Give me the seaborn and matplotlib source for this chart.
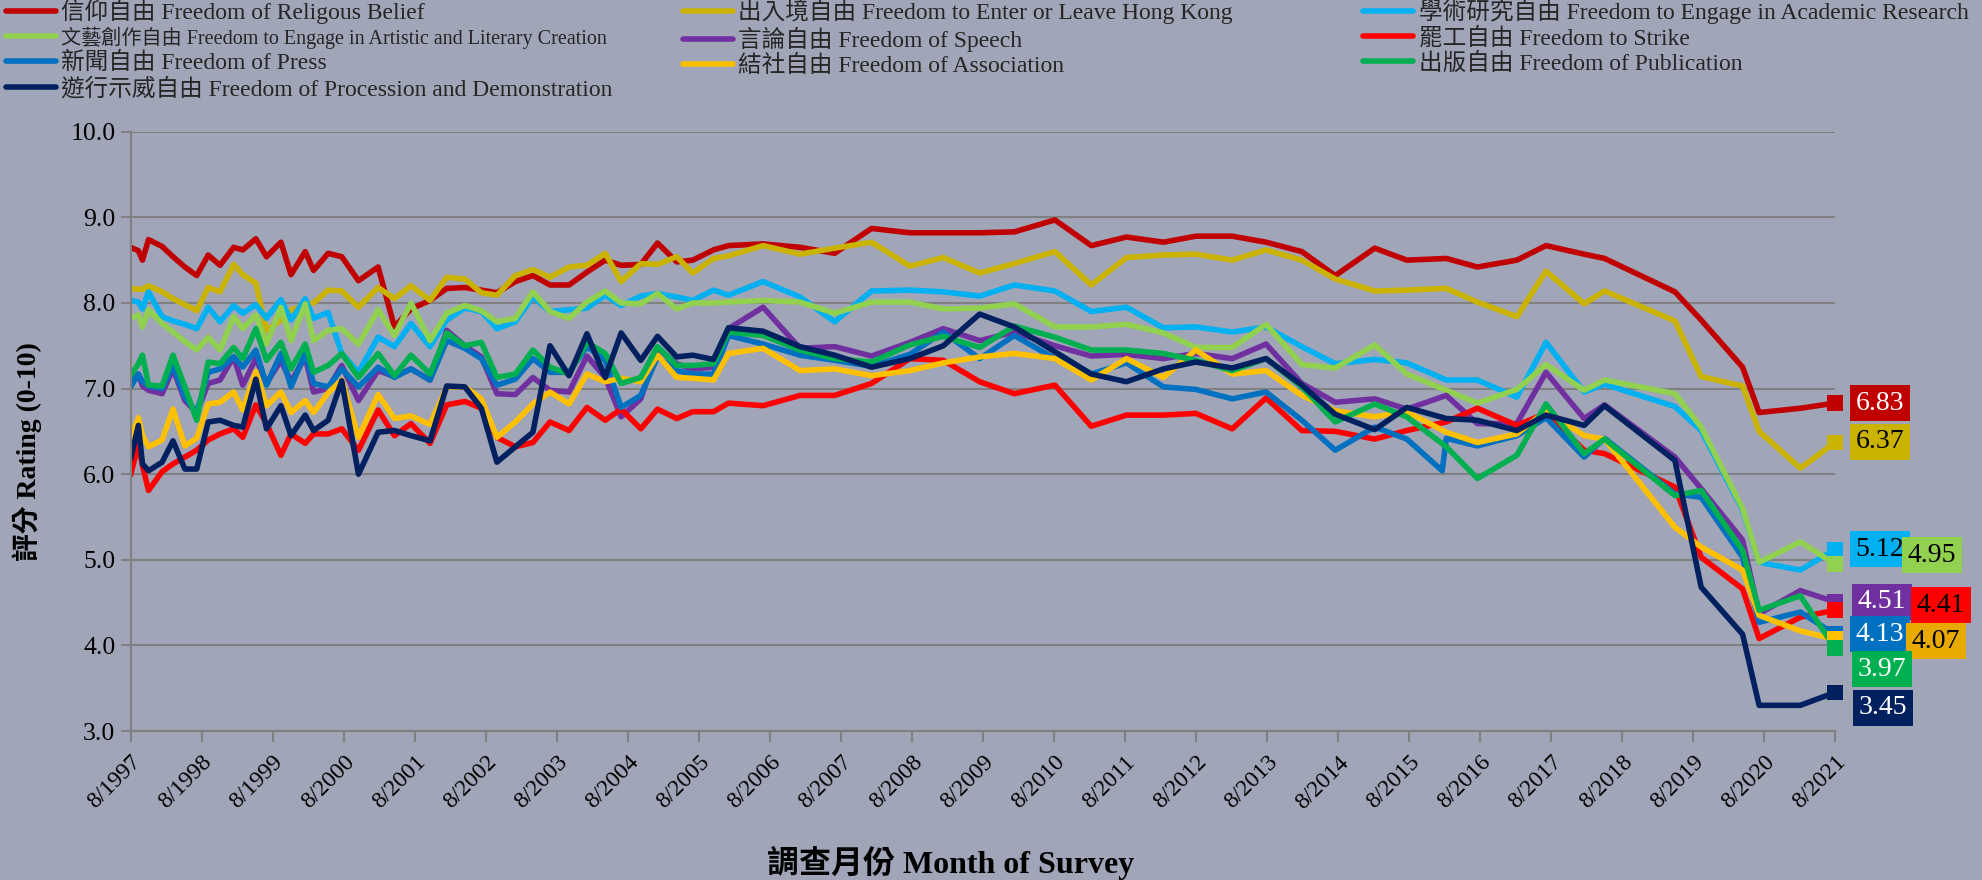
import numpy as np
import pandas as pd
import matplotlib
matplotlib.use("Agg")
import matplotlib.pyplot as plt
import matplotlib.transforms as mtransforms
from matplotlib.lines import Line2D
from matplotlib.ticker import FormatStrFormatter
import seaborn as sns

nan = np.nan

# survey dates (one extra press-only survey in early 2016)
dates = [
    "1997-08-01", "1997-09-10", "1997-10-01", "1997-11-01", "1998-01-10", "1998-03-07", "1998-05-07", "1998-07-07", "1998-09-04", "1998-11-04",
    "1999-01-13", "1999-03-01", "1999-05-07", "1999-07-01", "1999-09-13", "1999-11-04", "2000-01-16", "2000-02-28", "2000-05-13", "2000-07-22",
    "2000-10-16", "2001-01-25", "2001-04-19", "2001-07-13", "2001-10-19", "2002-01-13", "2002-04-16", "2002-07-10", "2002-09-28", "2003-01-01",
    "2003-04-01", "2003-06-28", "2003-10-04", "2004-01-04", "2004-04-07", "2004-06-28", "2004-10-07", "2005-01-01", "2005-04-10", "2005-07-01",
    "2005-10-16", "2006-01-01", "2006-06-28", "2007-01-04", "2007-07-01", "2008-01-07", "2008-07-22", "2009-01-10", "2009-07-16", "2010-01-10",
    "2010-08-07", "2011-02-10", "2011-08-10", "2012-02-16", "2012-08-01", "2013-02-04", "2013-07-28", "2014-01-28", "2014-07-19", "2015-02-07",
    "2015-07-22", "2016-01-20", "2016-02-10", "2016-07-19", "2017-02-07", "2017-07-07", "2018-01-19", "2018-05-04", "2019-05-01", "2019-09-13",
    "2020-04-13", "2020-07-07", "2021-02-04", "2021-08-01"]

religious = [8.65, 8.61, 8.50, 8.74, 8.66, 8.54, 8.42, 8.32, 8.56, 8.44,
             8.65, 8.62, 8.75, 8.54, 8.71, 8.33, 8.60, 8.38, 8.58, 8.54,
             8.26, 8.42, 7.72, 7.93, 8.03, 8.17, 8.18, 8.15, 8.12, 8.25,
             8.32, 8.21, 8.21, 8.36, 8.50, 8.44, 8.45, 8.70, 8.48, 8.50,
             8.62, 8.67, 8.69, 8.65, 8.58, 8.87, 8.82, 8.82, 8.82, 8.83,
             8.97, 8.67, 8.77, 8.71, 8.78, 8.78, 8.71, 8.60, 8.32, 8.64,
             8.50, nan, 8.52, 8.42, 8.50, 8.67, 8.57, 8.52, 8.13, 7.80,
             7.25, 6.72, 6.77, 6.83]
enter_leave = [8.17, 8.16, 8.16, 8.20, 8.13, 8.05, 7.98, 7.91, 8.18, 8.13,
               8.45, 8.33, 8.23, 7.68, 7.80, 7.92, 7.97, 8.00, 8.15, 8.14,
               7.95, 8.18, 8.05, 8.20, 8.03, 8.30, 8.28, 8.12, 8.09, 8.32,
               8.39, 8.30, 8.42, 8.44, 8.58, 8.25, 8.46, 8.45, 8.54, 8.35,
               8.52, 8.55, 8.67, 8.57, 8.64, 8.71, 8.43, 8.53, 8.35, 8.46,
               8.60, 8.21, 8.53, 8.56, 8.57, 8.50, 8.62, 8.50, 8.28, 8.14,
               8.15, nan, 8.17, 8.01, 7.84, 8.37, 7.99, 8.14, 7.79, 7.14,
               7.03, 6.50, 6.07, 6.37]
academic = [8.03, 8.01, 7.93, 8.13, 7.84, 7.79, 7.75, 7.70, 7.95, 7.78,
            7.97, 7.88, 7.98, 7.82, 8.04, 7.80, 8.05, 7.82, 7.89, 7.41,
            7.19, 7.60, 7.49, 7.76, 7.49, 7.80, 7.94, 7.90, 7.70, 7.78,
            8.07, 7.90, 7.92, 7.94, 8.09, 7.97, 8.08, 8.11, 8.07, 8.03,
            8.15, 8.09, 8.25, 8.07, 7.78, 8.14, 8.15, 8.13, 8.08, 8.21,
            8.14, 7.90, 7.95, 7.71, 7.72, 7.66, 7.72, 7.49, 7.29, 7.34,
            7.30, nan, 7.10, 7.10, 6.90, 7.54, 6.96, 7.05, 6.79, 6.51,
            5.58, 4.97, 4.88, 5.12]
artistic = [7.82, 7.86, 7.72, 7.92, 7.76, 7.66, 7.55, 7.45, 7.60, 7.45,
            7.84, 7.70, 7.86, 7.52, 7.95, 7.56, 7.99, 7.56, 7.68, 7.70,
            7.52, 7.92, 7.62, 8.00, 7.56, 7.88, 7.97, 7.91, 7.78, 7.82,
            8.13, 7.90, 7.82, 8.01, 8.14, 8.00, 7.99, 8.11, 7.93, 8.00,
            8.00, 8.01, 8.03, 8.01, 7.88, 8.01, 8.01, 7.93, 7.94, 7.99,
            7.72, 7.72, 7.75, 7.65, 7.48, 7.48, 7.75, 7.28, 7.24, 7.51,
            7.17, nan, 6.98, 6.83, 6.99, 7.28, 6.98, 7.10, 6.94, 6.55,
            5.60, 4.97, 5.21, 4.95]
speech = [7.08, 7.17, 7.03, 6.98, 6.94, 7.23, 6.86, 6.72, 7.06, 7.10,
          7.37, 7.04, 7.35, 7.06, 7.33, 7.08, 7.37, 6.96, 7.00, 7.27,
          6.86, 7.21, 7.14, 7.23, 7.10, 7.68, 7.50, 7.37, 6.94, 6.93,
          7.13, 6.98, 6.96, 7.38, 7.13, 6.67, 6.88, 7.47, 7.29, 7.23,
          7.25, 7.70, 7.95, 7.47, 7.49, 7.38, 7.54, 7.70, 7.56, 7.66,
          7.50, 7.38, 7.40, 7.35, 7.41, 7.35, 7.52, 7.06, 6.84, 6.88,
          6.76, nan, 6.92, 6.59, 6.59, 7.19, 6.65, 6.81, 6.20, 5.83,
          5.23, 4.37, 4.64, 4.51]
strike = [5.99, 6.35, 6.10, 5.81, 6.03, 6.12, 6.20, 6.28, 6.40, 6.47,
          6.53, 6.43, 6.81, 6.59, 6.22, 6.47, 6.36, 6.47, 6.47, 6.53,
          6.28, 6.75, 6.45, 6.59, 6.36, 6.81, 6.85, 6.77, 6.43, 6.32,
          6.37, 6.61, 6.51, 6.78, 6.63, 6.76, 6.53, 6.76, 6.65, 6.73,
          6.73, 6.83, 6.80, 6.92, 6.92, 7.06, 7.35, 7.33, 7.08, 6.94,
          7.04, 6.56, 6.69, 6.69, 6.71, 6.53, 6.89, 6.51, 6.50, 6.41,
          6.51, nan, 6.61, 6.77, 6.57, 6.71, 6.28, 6.24, 5.85, 5.03,
          4.66, 4.08, 4.33, 4.41]
press = [7.02, 7.17, 7.08, 7.03, 7.00, 7.27, 6.90, 6.72, 7.19, 7.23,
         7.37, 7.25, 7.45, 7.04, 7.41, 7.02, 7.41, 7.06, 7.02, 7.23,
         7.02, 7.25, 7.13, 7.23, 7.10, 7.56, 7.47, 7.35, 7.04, 7.11,
         7.35, 7.19, 7.19, 7.49, 7.33, 6.78, 6.92, 7.37, 7.21, 7.17,
         7.17, 7.62, 7.52, 7.39, 7.33, 7.26, 7.40, 7.66, 7.35, 7.62,
         7.35, 7.17, 7.30, 7.02, 6.99, 6.88, 6.96, 6.63, 6.28, 6.55,
         6.41, 6.04, 6.42, 6.33, 6.45, 6.66, 6.20, 6.42, 5.77, 5.73,
         5.03, 4.27, 4.39, 4.13]
association = [6.42, 6.66, 6.45, 6.32, 6.40, 6.76, 6.33, 6.42, 6.82, 6.84,
               6.96, 6.75, 7.20, 6.80, 6.96, 6.72, 6.86, 6.72, 6.95, 7.10,
               6.43, 6.93, 6.65, 6.68, 6.58, 7.02, 7.02, 6.88, 6.43, 6.61,
               6.82, 6.96, 6.82, 7.17, 7.08, 7.12, 7.08, 7.39, 7.13, 7.12,
               7.10, 7.41, 7.47, 7.21, 7.23, 7.15, 7.21, 7.30, 7.37, 7.41,
               7.35, 7.10, 7.35, 7.13, 7.45, 7.17, 7.21, 6.92, 6.74, 6.67,
               6.73, nan, 6.49, 6.37, 6.47, 6.74, 6.45, 6.41, 5.38, 5.15,
               4.88, 4.35, 4.17, 4.07]
publication = [7.15, 7.29, 7.39, 7.04, 7.03, 7.39, 7.02, 6.63, 7.31, 7.29,
               7.48, 7.35, 7.70, 7.33, 7.54, 7.23, 7.52, 7.19, 7.27, 7.41,
               7.13, 7.41, 7.15, 7.39, 7.17, 7.65, 7.50, 7.54, 7.13, 7.17,
               7.45, 7.25, 7.17, 7.54, 7.41, 7.06, 7.13, 7.49, 7.27, 7.27,
               7.29, 7.66, 7.62, 7.45, 7.35, 7.31, 7.51, 7.61, 7.48, 7.73,
               7.60, 7.45, 7.45, 7.41, 7.33, 7.21, 7.35, 7.02, 6.61, 6.82,
               6.67, nan, 6.32, 5.95, 6.22, 6.82, 6.24, 6.41, 5.75, 5.81,
               5.11, 4.41, 4.58, 3.97]
procession = [6.18, 6.57, 6.12, 6.04, 6.14, 6.39, 6.06, 6.06, 6.61, 6.63,
              6.57, 6.55, 7.11, 6.53, 6.80, 6.45, 6.69, 6.51, 6.63, 7.09,
              6.00, 6.49, 6.51, 6.45, 6.39, 7.03, 7.02, 6.77, 6.14, 6.32,
              6.49, 7.50, 7.15, 7.64, 7.13, 7.65, 7.33, 7.61, 7.37, 7.39,
              7.34, 7.71, 7.67, 7.49, 7.39, 7.25, 7.35, 7.50, 7.87, 7.72,
              7.43, 7.17, 7.08, 7.23, 7.31, 7.24, 7.35, 7.04, 6.70, 6.52,
              6.78, nan, 6.65, 6.63, 6.51, 6.69, 6.57, 6.80, 6.16, 4.68,
              4.13, 3.30, 3.30, 3.45]

series_names = [
    "信仰自由 Freedom of Religous Belief",
    "出入境自由 Freedom to Enter or Leave Hong Kong",
    "學術研究自由 Freedom to Engage in Academic Research",
    "文藝創作自由 Freedom to Engage in Artistic and Literary Creation",
    "言論自由 Freedom of Speech",
    "罷工自由 Freedom to Strike",
    "新聞自由 Freedom of Press",
    "結社自由 Freedom of Association",
    "出版自由 Freedom of Publication",
    "遊行示威自由 Freedom of Procession and Demonstration",
]
series_values = [religious, enter_leave, academic, artistic, speech,
                 strike, press, association, publication, procession]
colors = ['#C00000', '#C9B200', '#00B0F0', '#92D050', '#7030A0',
          '#FF0000', '#0070C0', '#FFC000', '#00B050', '#002060']

# end-value boxes: x in axes fraction, y in data, box colour, text colour
box_x = [1.0264, 1.0264, 1.0264, 1.0569, 1.0276, 1.0623, 1.0264, 1.0593, 1.0276, 1.0282]
box_y = [6.83, 6.38, 5.125, 5.055, 4.51, 4.47, 4.13, 4.05, 3.72, 3.27]
box_fc = ['#C00000', '#C9B200', '#00B0F0', '#92D050', '#7030A0',
          '#FF0000', '#0070C0', '#E8AA00', '#00B050', '#002060']
box_tc = ['white', 'black', 'black', 'black', 'white',
          'black', 'white', 'black', 'white', 'white']

bg = '#A0A5B8'
grid_c = '#808080'

sns.set_theme(style='white')
plt.rcParams['font.family'] = ['Liberation Serif', 'Noto Sans CJK TC']
plt.rcParams['lines.solid_joinstyle'] = 'round'
plt.rcParams['lines.solid_capstyle'] = 'round'

df = pd.DataFrame({'date': pd.to_datetime(dates)})
for name, vals in zip(series_names, series_values):
    df[name] = vals
long_df = df.melt(id_vars='date', var_name='series', value_name='rating').dropna()

fig = plt.figure(figsize=(19.82, 8.8), dpi=100)
fig.patch.set_facecolor(bg)
ax = fig.add_axes([0.0659, 0.1693, 0.8599, 0.681])
ax.set_facecolor(bg)

sns.lineplot(data=long_df, x='date', y='rating', hue='series',
             hue_order=series_names, palette=colors, linewidth=4,
             estimator=None, legend=False, ax=ax)

last_df = long_df.groupby('series', sort=False).tail(1)
sns.scatterplot(data=last_df, x='date', y='rating', hue='series',
                hue_order=series_names, palette=colors, marker='s', s=130,
                linewidth=0, legend=False, ax=ax, clip_on=False, zorder=5)

# value boxes at the end of each line
trans = mtransforms.blended_transform_factory(ax.transAxes, ax.transData)
for i, name in enumerate(series_names):
    val = last_df.loc[last_df['series'] == name, 'rating'].iloc[0]
    ax.text(box_x[i], box_y[i], f"{val:.2f}", transform=trans,
            ha='center', va='center', fontsize=20, color=box_tc[i],
            bbox=dict(boxstyle='square,pad=0.2', fc=box_fc[i], ec='none'),
            clip_on=False, zorder=6)

# axes styling
ax.set_xlim(pd.Timestamp('1997-08-01'), pd.Timestamp('2021-08-01'))
ax.set_ylim(3, 10)
ax.set_yticks(np.arange(3, 10.01, 1.0))
ax.yaxis.set_major_formatter(FormatStrFormatter('%.1f'))
tick_dates = pd.date_range('1997-08-01', '2021-08-01', freq='12MS')
ax.set_xticks(tick_dates)
ax.set_xticklabels([f"{d.month}/{d.year}" for d in tick_dates],
                   rotation=45, ha='right', rotation_mode='anchor')
ax.tick_params(axis='x', bottom=True, length=8, width=1.5, color=grid_c,
               labelsize=17, pad=7, labelcolor='black')
ax.tick_params(axis='y', left=True, length=7, width=1.5, color=grid_c,
               labelsize=18.5, pad=4, labelcolor='black')
ax.yaxis.grid(True, color=grid_c, linewidth=1.5)
ax.xaxis.grid(False)
for side in ['top', 'right']:
    ax.spines[side].set_visible(False)
for side in ['left', 'bottom']:
    ax.spines[side].set_color(grid_c)
    ax.spines[side].set_linewidth(1.5)

ax.set_xlabel('調查月份 Month of Survey', fontsize=23, fontweight='bold', color='black')
ax.xaxis.set_label_coords(0.481, -0.22)
ax.xaxis.label.set_va('center')
ax.set_ylabel('評分 Rating (0-10)', fontsize=20, fontweight='bold', color='black')
ax.yaxis.set_label_coords(-0.061, 0.466)
ax.yaxis.label.set_va('center')

# legend: three columns, filled row by row
columns = [[0, 3, 6, 9], [1, 4, 7], [2, 5, 8]]
col_x = [0.003, 0.3446, 0.6877]
for col, x0 in zip(columns, col_x):
    handles = [Line2D([], [], color=colors[i], lw=4, solid_capstyle='round') for i in col]
    leg = fig.legend(handles, [series_names[i] for i in col], loc='upper left',
                     bbox_to_anchor=(x0, 1.001), frameon=False, fontsize=17,
                     handlelength=2.1, handletextpad=0.25, labelspacing=0.12,
                     borderpad=0, borderaxespad=0)
    for t in leg.get_texts():
        if 'Artistic' in t.get_text():
            t.set_fontsize(14.5)

fig.savefig('out.png', dpi=100, facecolor=bg)
